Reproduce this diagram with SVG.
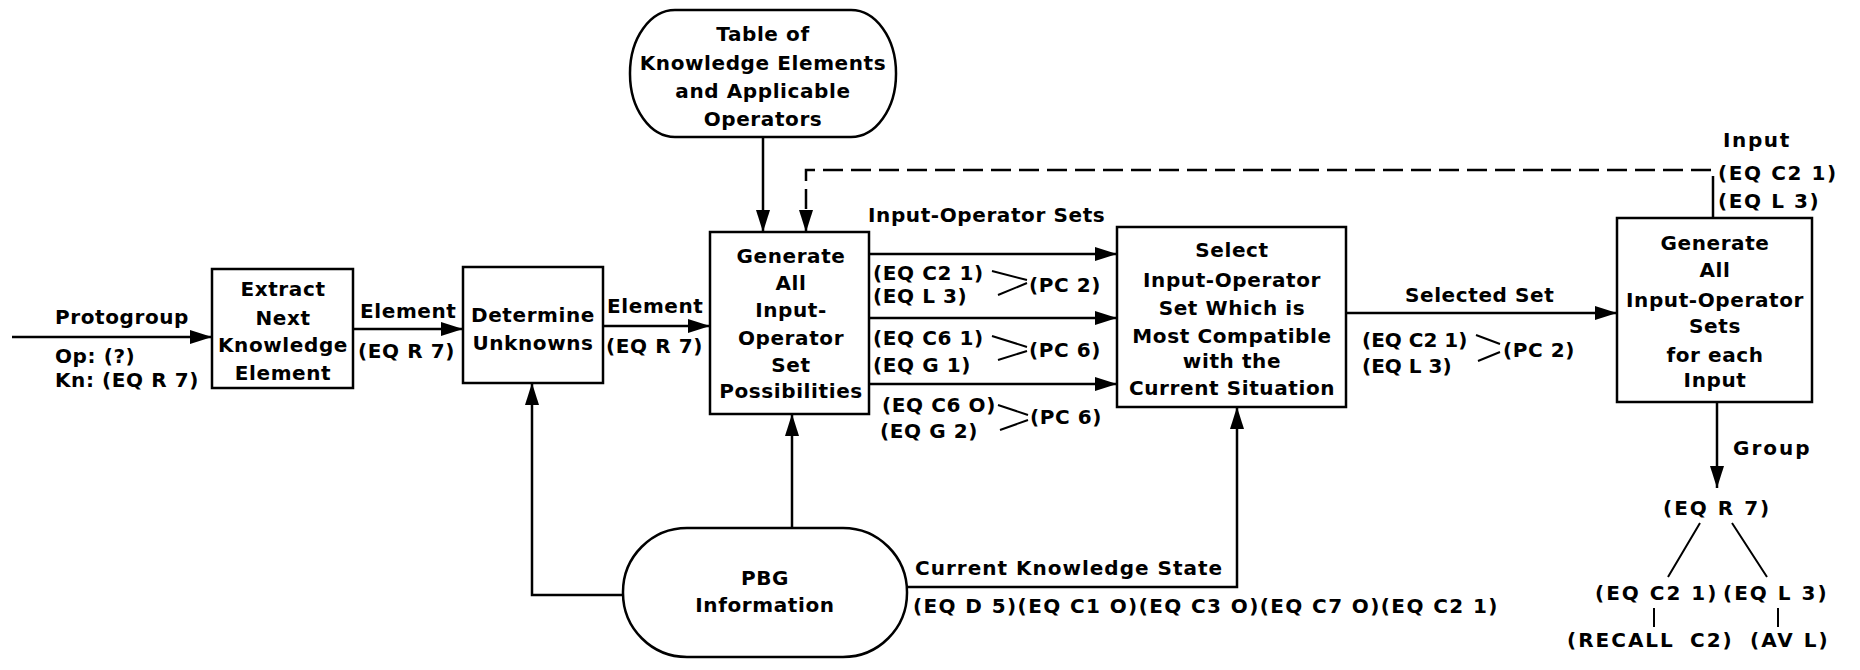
<svg xmlns="http://www.w3.org/2000/svg" width="1860" height="670" viewBox="0 0 1860 670">
  <defs>
    <marker id="arrow" viewBox="0 0 22 14" refX="22" refY="7" markerWidth="22" markerHeight="14" markerUnits="userSpaceOnUse" orient="auto">
      <path d="M0,0 L22,7 L0,14 Z" fill="#000"/>
    </marker>
    <style>
      .box { fill: #fff; stroke: #000; stroke-width: 2.5; }
      .ln { fill: none; stroke: #000; stroke-width: 2.5; }
      .thin { fill: none; stroke: #000; stroke-width: 2; }
      .dash { stroke-dasharray: 20 8; }
      text { font-family: "DejaVu Sans", "Liberation Sans", sans-serif; font-weight: bold; font-size: 20px; letter-spacing: 0.6px; fill: #000; }
      .c { text-anchor: middle; }
      .tight { letter-spacing: 0; }
      .wide { letter-spacing: 1.6px; }
      .tree { letter-spacing: 2px; }
    </style>
  </defs>

  <rect width="1860" height="670" fill="#fff"/>

  <!-- connectors -->
  <g id="connectors">
    <line class="ln" x1="12" y1="337" x2="212" y2="337" marker-end="url(#arrow)"/>
    <line class="ln" x1="353" y1="329" x2="463" y2="329" marker-end="url(#arrow)"/>
    <line class="ln" x1="603" y1="326" x2="710" y2="326" marker-end="url(#arrow)"/>
    <line class="ln" x1="763" y1="137" x2="763" y2="232" marker-end="url(#arrow)"/>
    <!-- feedback of inputs back to the generator -->
    <line class="ln" x1="1713" y1="218" x2="1713" y2="196"/>
    <path class="ln dash" d="M1713,196 V170 H806 V232" marker-end="url(#arrow)"/>
    <!-- input-operator sets -->
    <line class="ln" x1="869" y1="254" x2="1117" y2="254" marker-end="url(#arrow)"/>
    <line class="ln" x1="869" y1="318" x2="1117" y2="318" marker-end="url(#arrow)"/>
    <line class="ln" x1="869" y1="384" x2="1117" y2="384" marker-end="url(#arrow)"/>
    <line class="ln" x1="1346" y1="313" x2="1617" y2="313" marker-end="url(#arrow)"/>
    <!-- PBG information feeds -->
    <path class="ln" d="M623,595 H532 V383" marker-end="url(#arrow)"/>
    <line class="ln" x1="792" y1="528" x2="792" y2="414" marker-end="url(#arrow)"/>
    <path class="ln" d="M907,587 H1237 V407" marker-end="url(#arrow)"/>
    <!-- group output -->
    <line class="ln" x1="1717" y1="402" x2="1717" y2="488" marker-end="url(#arrow)"/>
    <!-- pairing brackets -->
    <path class="thin" d="M992,271 L1027,280 M998,295 L1027,283"/>
    <path class="thin" d="M992,336 L1027,347 M998,360 L1027,351"/>
    <path class="thin" d="M998,405 L1028,415 M1000,430 L1028,420"/>
    <path class="thin" d="M1476,335 L1500,344 M1478,361 L1500,352"/>
    <!-- group tree -->
    <path class="thin" d="M1700,523 L1668,577 M1732,523 L1767,577 M1654,608 V627 M1778,608 V627"/>
  </g>

  <g id="extract">
    <rect class="box" x="212" y="269" width="141" height="119"/>
    <text class="c" x="283" y="296">Extract</text>
    <text class="c" x="283" y="325">Next</text>
    <text class="c" x="283" y="352">Knowledge</text>
    <text class="c" x="283" y="380">Element</text>
  </g>

  <g id="determine">
    <rect class="box" x="463" y="267" width="140" height="116"/>
    <text class="c" x="533" y="322">Determine</text>
    <text class="c" x="533" y="350">Unknowns</text>
  </g>

  <g id="table">
    <rect class="box" x="630" y="10" width="266" height="127" rx="45" ry="63"/>
    <text class="c" x="763" y="41">Table of</text>
    <text class="c" x="763" y="70">Knowledge Elements</text>
    <text class="c" x="763" y="98">and Applicable</text>
    <text class="c" x="763" y="126">Operators</text>
  </g>

  <g id="generate">
    <rect class="box" x="710" y="232" width="159" height="182"/>
    <text class="c" x="791" y="263">Generate</text>
    <text class="c" x="791" y="290">All</text>
    <text class="c" x="791" y="317">Input-</text>
    <text class="c" x="791" y="345">Operator</text>
    <text class="c" x="791" y="372">Set</text>
    <text class="c" x="791" y="398">Possibilities</text>
  </g>

  <g id="select">
    <rect class="box" x="1117" y="227" width="229" height="180"/>
    <text class="c" x="1232" y="257">Select</text>
    <text class="c" x="1232" y="287">Input-Operator</text>
    <text class="c" x="1232" y="315">Set Which is</text>
    <text class="c" x="1232" y="343">Most Compatible</text>
    <text class="c" x="1232" y="368">with the</text>
    <text class="c" x="1232" y="395">Current Situation</text>
  </g>

  <g id="generate-each">
    <rect class="box" x="1617" y="218" width="195" height="184"/>
    <text class="c" x="1715" y="250">Generate</text>
    <text class="c" x="1715" y="277">All</text>
    <text class="c" x="1715" y="307">Input-Operator</text>
    <text class="c" x="1715" y="333">Sets</text>
    <text class="c" x="1715" y="362">for each</text>
    <text class="c" x="1715" y="387">Input</text>
  </g>

  <g id="pbg">
    <rect class="box" x="623" y="528" width="284" height="129" rx="64" ry="64"/>
    <text class="c" x="765" y="585">PBG</text>
    <text class="c" x="765" y="612">Information</text>
  </g>

  <g id="labels">
    <text x="55" y="324">Protogroup</text>
    <text x="55" y="363">Op: (?)</text>
    <text x="55" y="387">Kn: (EQ R 7)</text>
    <text x="360" y="318">Element</text>
    <text x="358" y="358">(EQ R 7)</text>
    <text x="607" y="313">Element</text>
    <text x="606" y="353">(EQ R 7)</text>
    <text x="868" y="222">Input-Operator Sets</text>
    <text x="873" y="280">(EQ C2 1)</text>
    <text x="873" y="303">(EQ L 3)</text>
    <text x="1029" y="292">(PC 2)</text>
    <text x="873" y="345">(EQ C6 1)</text>
    <text x="873" y="372">(EQ G 1)</text>
    <text x="1029" y="357">(PC 6)</text>
    <text x="882" y="412">(EQ C6 O)</text>
    <text x="880" y="438">(EQ G 2)</text>
    <text x="1030" y="424">(PC 6)</text>
    <text x="1405" y="302">Selected Set</text>
    <text class="tight" x="1362" y="347">(EQ C2 1)</text>
    <text class="tight" x="1362" y="373">(EQ L 3)</text>
    <text x="1503" y="357">(PC 2)</text>
    <text class="wide" x="1723" y="147">Input</text>
    <text class="wide" x="1718" y="180">(EQ C2 1)</text>
    <text class="wide" x="1718" y="208">(EQ L 3)</text>
    <text class="tree" x="1733" y="455">Group</text>
    <text class="tree" x="1663" y="515">(EQ R 7)</text>
    <text class="tree" x="1595" y="600">(EQ C2 1)</text>
    <text class="tree" x="1723" y="600">(EQ L 3)</text>
    <text class="tree" x="1567" y="647">(RECALL<tspan x="1690">C2)</tspan></text>
    <text class="tree" x="1750" y="647">(AV L)</text>
    <text x="915" y="575" style="letter-spacing:1px">Current Knowledge State</text>
    <text x="913" y="613" style="letter-spacing:1.4px">(EQ D 5)(EQ C1 O)(EQ C3 O)(EQ C7 O)(EQ C2 1)</text>
  </g>
</svg>
